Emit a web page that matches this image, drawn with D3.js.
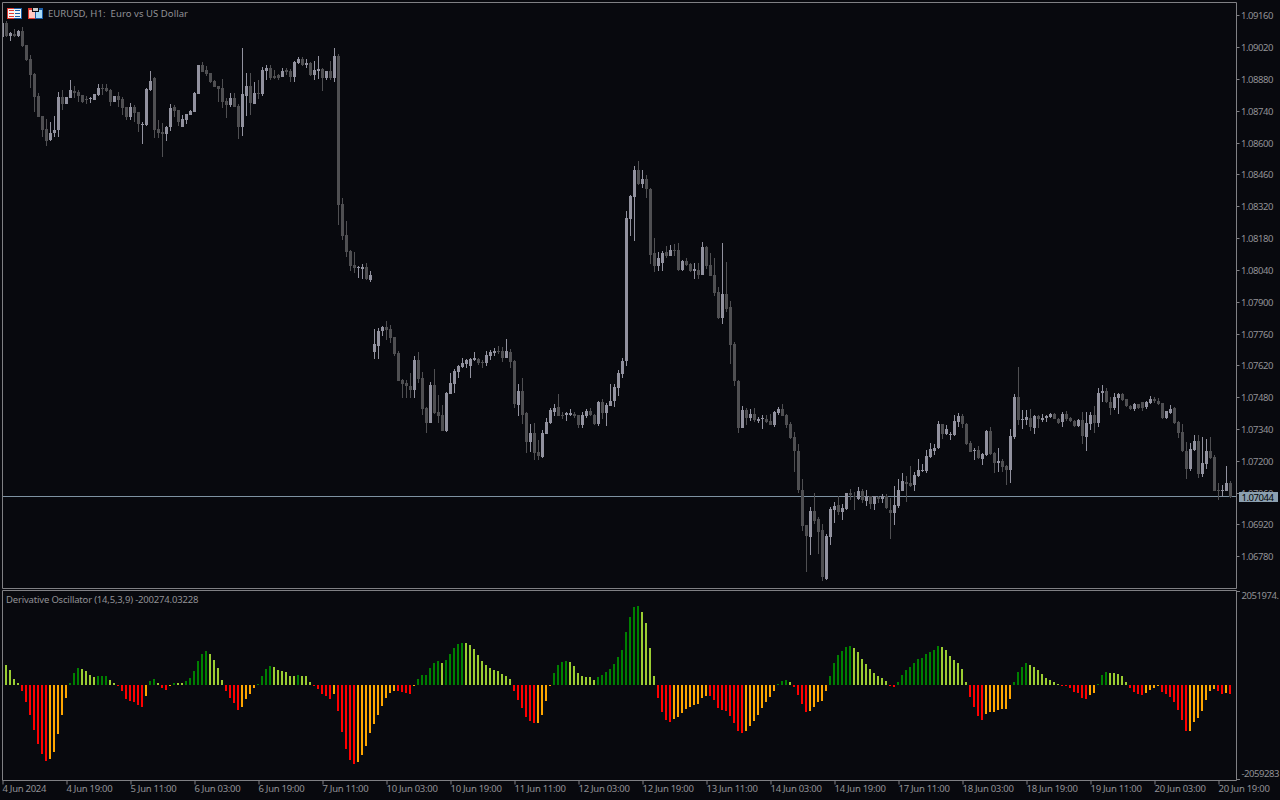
<!DOCTYPE html>
<html lang="en">

<head>
  <meta charset="UTF-8">
  <title>EURUSD, H1</title>
  <script src="https://d3js.org/d3.v7.min.js"></script>
  <style>
    html, body {
      margin: 0;
      padding: 0;
      background: #08090e;
      overflow: hidden;
    }

    svg {
      display: block;
    }

    text {
      font-family: "Noto Sans", sans-serif;
      font-size: 9.5px;
      letter-spacing: -0.45px;
      fill: #929296;
    }

    text.caption {
      letter-spacing: -0.18px;
    }

    text.title {
      letter-spacing: 0.06px;
      white-space: pre;
    }

    .time-axis text {
      letter-spacing: -0.28px;
    }
  </style>
</head>

<body>
  <svg id="chart" width="1280" height="800"></svg>

  <script>
    // prices are points above 1.06000
    const highs = [
      3129,3138,3089,3102,3098,3111,3032,2988,2909,2821,
      2720,2706,2693,2720,2825,2834,2803,2878,2852,2834,
      2812,2808,2803,2816,2860,2860,2860,2838,2808,2825,
      2803,2759,2777,2768,2737,2693,2843,2918,2891,2702,
      2689,2676,2772,2768,2746,2724,2728,2746,2825,2944,
      2957,2940,2909,2878,2852,2882,2799,2821,2821,2772,
      3019,2909,2909,2869,2878,2935,2944,2944,2922,2904,
      2931,2931,2926,2962,2979,2979,2970,2957,2962,2984,
      2931,2918,2962,3019,2992,2359,2258,2130,2121,2060,
      2068,2073,2038,1782,1787,1796,1818,1800,1747,1686,
      1562,1558,1589,1664,1681,1593,1439,1549,1606,1492,
      1448,1505,1589,1606,1624,1655,1650,1655,1681,1655,
      1646,1686,1690,1699,1708,1703,1738,1694,1646,1540,
      1567,1417,1364,1369,1294,1338,1391,1435,1452,1496,
      1417,1417,1430,1417,1404,1417,1430,1435,1408,1466,
      1474,1457,1540,1540,1602,1655,2302,2372,2500,2522,
      2482,2460,2403,2183,2121,2126,2148,2152,2156,2161,
      2086,2095,2073,2073,2073,2165,2148,2117,2095,1967,
      2161,2077,1906,1725,1558,1444,1435,1430,1435,1395,
      1404,1404,1408,1422,1439,1452,1408,1373,1329,1276,
      1122,920,1000,1061,955,924,880,1000,1021,1048,
      1012,1061,1078,1065,1087,1078,1074,1048,1048,1048,
      1056,1056,1039,1092,1122,1149,1136,1180,1153,1210,
      1188,1250,1281,1276,1378,1364,1360,1329,1404,1413,
      1408,1369,1290,1259,1268,1237,1338,1351,1241,1259,
      1210,1184,1342,1496,1615,1426,1426,1430,1404,1404,
      1408,1404,1413,1413,1391,1417,1422,1395,1382,1386,
      1417,1417,1417,1444,1523,1536,1523,1483,1501,1501,
      1501,1474,1448,1457,1452,1461,1466,1488,1483,1479,
      1457,1422,1448,1439,1378,1364,1285,1281,1316,1316,
      1307,1298,1307,1228,1105,1096,1180,1114
    ];
    const opens = [
      3067,3129,3072,3080,3072,3094,3032,2970,2904,2808,
      2720,2662,2614,2645,2658,2803,2772,2799,2830,2825,
      2812,2794,2794,2790,2812,2843,2843,2834,2781,2808,
      2794,2759,2715,2759,2737,2680,2680,2834,2887,2662,
      2649,2640,2671,2759,2746,2671,2702,2724,2737,2816,
      2944,2922,2909,2874,2852,2843,2786,2768,2799,2764,
      2671,2808,2852,2772,2821,2816,2918,2931,2896,2900,
      2891,2922,2918,2891,2953,2970,2944,2953,2900,2918,
      2926,2887,2918,2887,2984,2332,2196,2126,2064,2051,
      2046,2055,1998,1681,1708,1774,1791,1782,1747,1677,
      1558,1545,1532,1514,1646,1567,1435,1369,1536,1417,
      1404,1334,1496,1540,1593,1615,1628,1620,1646,1650,
      1637,1633,1664,1677,1686,1686,1655,1681,1642,1448,
      1510,1413,1285,1325,1241,1219,1320,1369,1417,1439,
      1404,1404,1404,1408,1404,1360,1400,1422,1404,1364,
      1461,1413,1444,1466,1523,1584,1642,2266,2363,2482,
      2420,2442,2398,2117,2060,2073,2121,2104,2130,2130,
      2042,2082,2068,2038,2042,2020,2143,2064,2020,1945,
      1831,1936,1879,1716,1554,1347,1426,1391,1408,1378,
      1386,1386,1378,1360,1413,1430,1404,1364,1307,1246,
      1074,920,867,982,946,898,682,867,986,1008,
      977,990,1061,1048,1034,1070,1026,1048,1012,1043,
      1034,1048,986,973,1004,1070,1109,1105,1096,1136,
      1158,1158,1219,1246,1259,1364,1320,1316,1316,1373,
      1400,1364,1281,1246,1250,1210,1228,1334,1237,1193,
      1202,1180,1162,1307,1483,1382,1382,1391,1347,1400,
      1382,1391,1395,1408,1386,1373,1408,1391,1378,1356,
      1382,1307,1364,1404,1369,1501,1510,1461,1435,1479,
      1496,1474,1444,1430,1452,1461,1439,1457,1474,1466,
      1457,1391,1413,1435,1373,1329,1246,1166,1250,1290,
      1144,1188,1246,1219,1074,1070,1070,1105
    ];
    const closes = [
      3129,3072,3085,3072,3094,3028,2966,2900,2803,2715,
      2658,2610,2645,2658,2803,2772,2803,2834,2821,2808,
      2781,2790,2799,2816,2843,2838,2830,2781,2808,2790,
      2755,2715,2759,2733,2684,2684,2838,2874,2658,2645,
      2640,2671,2755,2742,2693,2706,2728,2742,2821,2944,
      2913,2904,2869,2847,2838,2781,2768,2799,2759,2671,
      2816,2852,2777,2821,2816,2922,2931,2887,2887,2887,
      2918,2913,2891,2957,2970,2944,2953,2900,2922,2926,
      2887,2918,2887,2984,2328,2192,2121,2060,2051,2055,
      2055,2002,2020,1716,1774,1791,1778,1743,1672,1554,
      1540,1532,1514,1646,1562,1430,1369,1536,1413,1400,
      1334,1501,1545,1598,1620,1633,1646,1650,1655,1633,
      1633,1668,1681,1686,1681,1655,1686,1637,1452,1510,
      1404,1285,1325,1237,1224,1325,1373,1426,1435,1400,
      1400,1413,1413,1400,1360,1404,1422,1404,1364,1461,
      1413,1448,1466,1527,1589,1642,2271,2368,2482,2420,
      2442,2398,2108,2060,2095,2117,2104,2130,2126,2042,
      2082,2064,2038,2046,2020,2143,2060,2016,1941,1831,
      1936,1870,1712,1554,1347,1426,1391,1408,1382,1386,
      1391,1373,1360,1417,1430,1400,1360,1303,1246,1074,
      916,872,982,938,889,691,872,990,1004,977,
      995,1061,1052,1043,1070,1030,1048,1012,1048,1034,
      1048,995,973,1008,1074,1114,1100,1092,1140,1162,
      1162,1224,1254,1259,1364,1320,1342,1320,1378,1400,
      1364,1276,1241,1250,1215,1232,1334,1232,1193,1202,
      1175,1162,1312,1483,1382,1386,1395,1351,1400,1386,
      1391,1400,1408,1386,1369,1408,1386,1378,1356,1382,
      1312,1369,1404,1369,1501,1510,1461,1435,1483,1496,
      1470,1444,1430,1452,1435,1435,1461,1474,1466,1452,
      1391,1422,1430,1369,1325,1246,1166,1254,1290,1144,
      1193,1246,1215,1070,1070,1074,1105,1044
    ];
    const lows = [
      3067,3067,3050,3067,3067,3023,2962,2843,2737,2715,
      2627,2588,2610,2627,2627,2746,2772,2799,2799,2781,
      2777,2772,2777,2790,2808,2812,2825,2764,2781,2759,
      2724,2702,2702,2693,2649,2596,2676,2830,2623,2623,
      2539,2610,2654,2715,2676,2671,2684,2724,2737,2816,
      2913,2896,2865,2847,2781,2755,2711,2759,2759,2618,
      2632,2720,2724,2772,2794,2808,2878,2878,2882,2878,
      2891,2900,2869,2869,2948,2940,2931,2896,2878,2882,
      2830,2878,2878,2869,2240,2174,2099,2038,2029,2007,
      2002,1998,1989,1650,1650,1752,1734,1721,1664,1554,
      1479,1479,1479,1479,1545,1404,1325,1369,1408,1369,
      1334,1329,1496,1501,1567,1611,1611,1567,1642,1624,
      1611,1620,1646,1664,1672,1637,1655,1611,1435,1400,
      1364,1237,1241,1206,1206,1215,1320,1364,1400,1400,
      1386,1378,1400,1391,1347,1347,1391,1400,1360,1356,
      1386,1356,1444,1439,1488,1567,1620,2192,2170,2416,
      2403,2359,2068,2033,2038,2038,2095,2104,2104,2038,
      2038,2060,2033,2002,2002,2020,2046,2016,1928,1826,
      1804,1857,1628,1532,1325,1347,1360,1378,1373,1369,
      1342,1369,1360,1351,1404,1400,1347,1298,1153,1061,
      894,713,788,924,792,674,678,832,929,964,
      942,986,1030,986,1030,1017,1004,990,986,1017,
      1017,990,858,920,995,1070,1021,1087,1070,1131,
      1153,1149,1215,1228,1254,1298,1316,1294,1312,1351,
      1347,1272,1241,1206,1210,1184,1224,1228,1149,1153,
      1153,1096,1105,1298,1360,1342,1360,1334,1320,1347,
      1373,1373,1391,1386,1364,1351,1378,1373,1351,1351,
      1276,1246,1338,1325,1351,1461,1457,1404,1426,1408,
      1466,1439,1426,1422,1430,1422,1430,1452,1457,1448,
      1386,1386,1408,1364,1303,1241,1122,1158,1246,1127,
      1131,1166,1210,1070,1030,1043,1070,1039
    ];

    // oscillator in thousands, starts on the second candle
    const oscValues = [
      440,330,132,44,-132,-374,-660,-990,-1298,-1518,-1672,-1628,-1474,-1078,-660,-286,44,264,374,352,
      308,220,176,198,198,198,110,44,-22,-132,-308,-352,-374,-440,-484,-242,88,132,44,-66,
      -110,-22,44,44,44,88,154,308,528,682,748,682,550,374,110,-132,-286,-396,-550,-484,
      -308,-198,-66,22,198,352,418,396,330,308,286,198,198,220,198,198,66,-22,-88,
      -198,-242,-308,-198,-572,-1034,-1408,-1650,-1738,-1694,-1540,-1342,-1056,-858,-660,-462,-286,-176,-132,-132,
      -154,-176,-198,-22,132,220,220,374,484,528,484,550,682,814,902,924,924,880,792,660,
      528,440,374,330,308,242,198,132,-132,-330,-506,-704,-792,-836,-836,-660,-352,-22,264,440,
      506,528,506,418,264,198,176,176,110,176,220,286,352,462,616,770,1166,1496,1716,1738,
      1606,1364,814,198,-286,-594,-770,-814,-748,-704,-616,-528,-484,-440,-418,-286,-242,-242,-330,-506,
      -550,-572,-682,-836,-1012,-1056,-1012,-902,-792,-660,-506,-374,-264,-132,22,88,110,66,-44,-220,
      -418,-594,-572,-484,-374,-352,-132,198,484,660,748,836,858,814,726,572,462,352,264,198,
      154,88,-22,-44,66,220,330,396,484,572,594,682,726,770,858,836,770,638,550,484,
      352,66,-264,-484,-682,-770,-638,-594,-594,-550,-528,-528,-308,66,286,396,484,440,396,330,
      242,154,110,66,22,-22,-22,-66,-154,-176,-286,-308,-220,-176,22,220,286,264,264,242,
      198,66,-66,-154,-198,-220,-176,-110,-66,-22,-154,-198,-264,-374,-550,-770,-1012,-1012,-814,-726,
      -572,-330,-132,-88,-132,-198,-176,-198
    ];
    // g = up and rising, l = up and falling, r = down and falling, o = down and rising
    const oscTrend = (
      "llll rrrrrrr ooooo ggg llll ggg ll rrrrrrr o gg l rr o g ll gggggg llll rrrr oooo gggg llllll g lll rr " +
      "rrr o rrrrr oooooooooo rrrr o gggggg l ggggg llllllllllll rrrrrr oooo gggg lllllll ggggggggggg " +
      "llll rrrr ooooooooo rrrrrrrrr oooooooo ggg l rrrr ooooo gggggg lllllllll rr ggggggggggg lllll " +
      "ll rrrr ooooooo gggg llllllll rrrrrrr oo ggg lllll rrrr oooo rrrrrrr ooooooo rr o r"
    ).replace(/ /g, "").split("");

    const priceTicks = [1.0916, 1.0902, 1.0888, 1.0874, 1.086, 1.0846, 1.0832, 1.0818, 1.0804,
      1.079, 1.0776, 1.0762, 1.0748, 1.0734, 1.072, 1.0706, 1.0692, 1.0678];
    const lastPrice = 1.07044;
    const oscMax = 2051974;
    const oscMin = -2059283;
    const oscLast = "-200274.03228";
    const timeLabels = ["4 Jun 2024", "4 Jun 19:00", "5 Jun 11:00", "6 Jun 03:00", "6 Jun 19:00", "7 Jun 11:00",
      "10 Jun 03:00", "10 Jun 19:00", "11 Jun 11:00", "12 Jun 03:00", "12 Jun 19:00", "13 Jun 11:00",
      "14 Jun 03:00", "14 Jun 19:00", "17 Jun 11:00", "18 Jun 03:00", "18 Jun 19:00", "19 Jun 11:00",
      "20 Jun 03:00", "20 Jun 19:00"];
    const barsPerLabel = 16;

    const frameColor = "#808084";
    const candleUp = "#92929f";
    const candleDown = "#4f4f52";
    const lineColor = "#7e92a2";
    const tagColor = "#8ca0b0";
    const trendColor = d3.scaleOrdinal()
      .domain(["g", "l", "r", "o"])
      .range(["#008000", "#9acd32", "#ff0000", "#ffa500"]);

    const candles = highs.map((h, i) => ({
      i: i,
      high: 1.06 + h / 1e5,
      open: 1.06 + opens[i] / 1e5,
      close: 1.06 + closes[i] / 1e5,
      low: 1.06 + lows[i] / 1e5
    }));
    const oscBars = oscValues.map((v, i) => ({ i: i + 1, value: v, trend: oscTrend[i] }));

    const x = d3.scaleLinear().domain([0, candles.length - 1]).range([2, 1230]);
    const yPrice = d3.scaleLinear().domain([1.0916, 1.0678]).range([16, 16 + 2380 / 4.4]);
    const yOsc = d3.scaleLinear().domain([oscMin / 1000, oscMax / 1000]).range([779, 591.3]);

    const py = v => Math.round(yPrice(v));

    const svg = d3.select("#chart");

    svg.append("defs").append("clipPath").attr("id", "plot-clip")
      .append("rect")
      .attr("x", 3).attr("y", 3).attr("width", 1234).attr("height", 585);

    // candles
    const candleGroup = svg.append("g").attr("clip-path", "url(#plot-clip)");

    candleGroup.append("line")
      .attr("x1", 3).attr("x2", 1237)
      .attr("y1", Math.floor(yPrice(lastPrice) - 0.1) + 0.5)
      .attr("y2", Math.floor(yPrice(lastPrice) - 0.1) + 0.5)
      .attr("stroke", lineColor);

    const candle = candleGroup.selectAll("g.candle")
      .data(candles)
      .join("g")
      .attr("class", "candle")
      .attr("fill", d => d.close > d.open ? candleUp : candleDown);

    candle.append("rect")
      .attr("x", d => x(d.i))
      .attr("width", 1)
      .attr("y", d => py(d.high))
      .attr("height", d => py(d.low) - py(d.high));

    candle.append("rect")
      .attr("x", d => x(d.i) - 1)
      .attr("width", 3)
      .attr("y", d => py(Math.max(d.open, d.close)))
      .attr("height", d => Math.max(1, py(Math.min(d.open, d.close)) - py(Math.max(d.open, d.close))));

    // oscillator
    svg.append("g").selectAll("rect")
      .data(oscBars)
      .join("rect")
      .attr("x", d => x(d.i) - 1)
      .attr("width", 2)
      .attr("y", d => Math.round(Math.min(yOsc(d.value), yOsc(0))))
      .attr("height", d => Math.max(1, Math.round(Math.abs(yOsc(d.value) - yOsc(0)))))
      .attr("fill", d => trendColor(d.trend));

    // frames
    const frames = svg.append("g").attr("fill", "none").attr("stroke", frameColor);
    frames.append("path").attr("d", "M2.5,2.5H1236.5V588.5H2.5Z");
    frames.append("path").attr("d", "M2.5,590.5H1236.5V780.5H2.5Z");

    // price axis
    const priceAxis = svg.append("g")
      .attr("transform", "translate(1236.5,0)")
      .call(d3.axisRight(yPrice).tickValues(priceTicks).tickFormat(d3.format(".5f")).tickSize(3).tickPadding(1.5));
    priceAxis.select(".domain").remove();
    priceAxis.selectAll(".tick")
      .attr("transform", d => `translate(0,${Math.floor(yPrice(d) - 0.1) + 0.5})`);
    priceAxis.selectAll(".tick line").attr("stroke", frameColor);
    priceAxis.selectAll(".tick text")
      .attr("font-family", null).attr("font-size", null).attr("fill", null).attr("dy", "0.36em");

    // last price tag
    const tagY = Math.floor(yPrice(lastPrice) - 0.1);
    svg.append("rect")
      .attr("x", 1239).attr("y", tagY - 4).attr("width", 39).attr("height", 10)
      .attr("fill", tagColor);
    svg.append("text")
      .attr("x", 1241.5).attr("y", tagY + 4.5)
      .style("fill", "#000")
      .text(d3.format(".5f")(lastPrice));

    // oscillator scale
    const oscAxis = [
      { y: Math.round(yOsc(oscMax / 1000)), dy: 8, label: oscMax + "." },
      { y: Math.round(yOsc(oscMin / 1000)), dy: -2, label: String(oscMin) }
    ];
    svg.append("g").selectAll("line")
      .data(oscAxis)
      .join("line")
      .attr("x1", 1237).attr("x2", 1240)
      .attr("y1", d => d.y + 0.5).attr("y2", d => d.y + 0.5)
      .attr("stroke", frameColor);
    svg.append("g").selectAll("text")
      .data(oscAxis)
      .join("text")
      .attr("x", 1241.5)
      .attr("y", d => d.y + d.dy)
      .text(d => d.label);

    // time axis
    const timeAxis = svg.append("g")
      .attr("class", "time-axis")
      .attr("transform", "translate(0,780.5)")
      .call(d3.axisBottom(x)
        .tickValues(timeLabels.map((_, i) => i * barsPerLabel))
        .tickFormat((d, i) => timeLabels[i])
        .tickSize(4)
        .tickPadding(1));
    timeAxis.select(".domain").remove();
    timeAxis.selectAll(".tick line").attr("stroke", frameColor).attr("transform", "translate(0.5,0)");
    timeAxis.selectAll(".tick text")
      .attr("font-family", null).attr("font-size", null).attr("fill", null)
      .attr("text-anchor", "start");

    // labels
    svg.append("text").attr("class", "title").attr("x", 48).attr("y", 17)
      .text("EURUSD, H1:  Euro vs US Dollar");
    svg.append("text").attr("class", "caption").attr("x", 6).attr("y", 603)
      .text(`Derivative Oscillator (14,5,3,9) ${oscLast}`);

    // toolbar icons
    const icon1 = svg.append("g").attr("transform", "translate(7,8)");
    icon1.append("rect").attr("width", 8).attr("height", 11).attr("fill", "#e03a30");
    icon1.append("rect").attr("x", 7).attr("width", 8).attr("height", 11).attr("fill", "#1a5ea8");
    icon1.append("rect").attr("x", 1).attr("y", 1).attr("width", 13).attr("height", 9).attr("fill", "#f4f4f4");
    [2, 5, 8].forEach(r => {
      icon1.append("rect").attr("x", 2).attr("y", r).attr("width", 5).attr("height", 1).attr("fill", "#e03a30");
      icon1.append("rect").attr("x", 8).attr("y", r).attr("width", 5).attr("height", 1).attr("fill", "#1a5ea8");
    });
    const icon2 = svg.append("g").attr("transform", "translate(28,8)");
    icon2.append("rect").attr("width", 8).attr("height", 11).attr("fill", "#e03a30");
    icon2.append("rect").attr("x", 7).attr("width", 8).attr("height", 11).attr("fill", "#1a5ea8");
    icon2.append("rect").attr("x", 1).attr("y", 2).attr("width", 6).attr("height", 8).attr("fill", "#ffc8c0");
    icon2.append("rect").attr("x", 8).attr("y", 2).attr("width", 6).attr("height", 8).attr("fill", "#a8dcf8");
    icon2.append("rect").attr("x", 4).attr("y", 0).attr("width", 7).attr("height", 4).attr("fill", "#08090e");
    icon2.append("rect").attr("x", 5).attr("y", 0).attr("width", 5).attr("height", 3).attr("fill", "#c8c8c8");
  </script>
</body>

</html>
